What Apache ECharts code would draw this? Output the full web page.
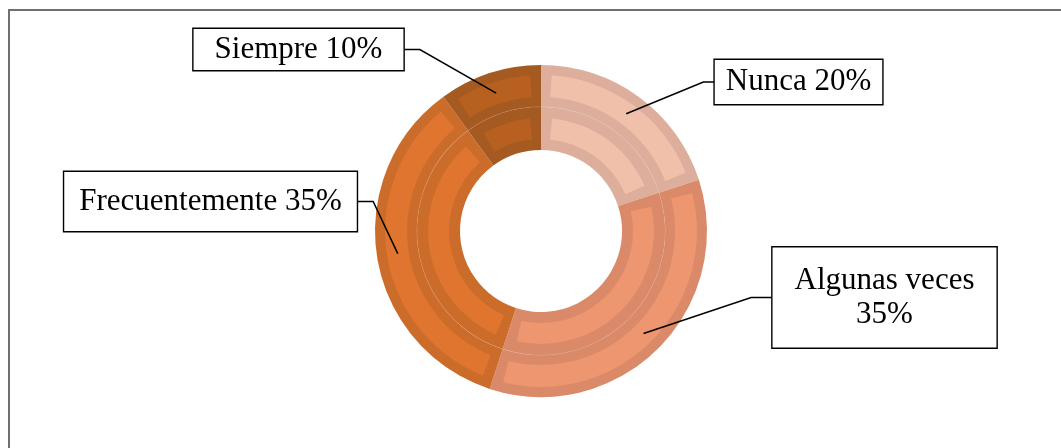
<!DOCTYPE html>
<html>
<head>
<meta charset="utf-8">
<script src="https://cdn.jsdelivr.net/npm/echarts@6/dist/echarts.min.js"></script>
<style>
  html, body { margin: 0; padding: 0; background: #fff; }
  #chart { width: 1061px; height: 448px; }
</style>
</head>
<body>
<div id="chart"></div>
<script>
// Survey answer shares (percent)
const categories = ['Nunca', 'Algunas veces', 'Frecuentemente', 'Siempre'];
const values = [20, 35, 35, 10];

// Slice face colours and their darker bevel edges
const faceColors = ['#F0C0AA', '#EE9670', '#DF752F', '#B8601F'];
const edgeColors = ['#DCAE9B', '#DA8A69', '#CB6C2B', '#A55A22'];
const seamColors = categories.map(() => 'rgba(255,255,255,0.3)');

// Callout boxes: centre, padding [top, right, bottom, left], leader side, elbow length
const callouts = [
  { cx: 798.5, cy: 82,    pad: [6.5, 11, 3.5, 11], side: 'left',  elbow: 10, wrap: false },
  { cx: 884.5, cy: 297.5, pad: [20, 22, 12, 22],   side: 'left',  elbow: 20, wrap: true  },
  { cx: 210.5, cy: 201.5, pad: [14, 15, 11, 15],   side: 'right', elbow: 15, wrap: false },
  { cx: 298.5, cy: 49.5,  pad: [5, 21, 2, 21],     side: 'right', elbow: 15, wrap: false }
];

const CENTER = [541, 231];

function ringData(colors) {
  return categories.map((name, i) => ({
    name: name,
    value: values[i],
    itemStyle: { color: colors[i] }
  }));
}

function ring(radius, colors, padAngle, z) {
  return {
    type: 'pie',
    silent: true,
    z: z,
    center: CENTER,
    radius: radius,
    startAngle: 90,
    clockwise: true,
    padAngle: padAngle,
    avoidLabelOverlap: false,
    label: { show: false },
    labelLine: { show: false },
    emphasis: { disabled: true },
    itemStyle: { borderWidth: 0 },
    data: ringData(colors)
  };
}

const chart = echarts.init(document.getElementById('chart'), null, { renderer: 'canvas' });

const labelData = categories.map((name, i) => ({
  name: name,
  value: values[i],
  itemStyle: { color: 'rgba(0,0,0,0)' },
  label: { padding: callouts[i].pad }
}));

chart.setOption({
  animation: false,
  backgroundColor: '#ffffff',
  graphic: [{
    type: 'rect',
    silent: true,
    z: 100,
    shape: { x: 9, y: 10, width: 1100, height: 500 },
    style: { fill: null, stroke: '#707070', lineWidth: 2 }
  }],
  series: [
    // ring bases
    ring([124, 166], edgeColors, 0, 1),
    ring([81, 124.3], edgeColors, 0, 1),
    // faint seam between the two rings
    ring([123.9, 124.4], seamColors, 0, 2),
    // ring faces
    ring([134, 156], faceColors, 7.9, 3),
    ring([92, 113], faceColors, 11.2, 3),
    // callouts
    {
      type: 'pie',
      silent: true,
      z: 5,
      center: CENTER,
      radius: [0, 145],
      startAngle: 90,
      clockwise: true,
      avoidLabelOverlap: false,
      emphasis: { disabled: true },
      itemStyle: { borderWidth: 0 },
      label: {
        show: true,
        position: 'outside',
        fontFamily: 'Liberation Serif',
        fontSize: 31,
        lineHeight: 34,
        color: '#000',
        backgroundColor: '#fff',
        borderColor: '#000',
        borderWidth: 1.4,
        align: 'center',
        formatter: (p) => {
          const c = callouts[p.dataIndex];
          return p.name + (c.wrap ? '\n' : ' ') + p.value + '%';
        }
      },
      labelLine: {
        show: true,
        length: 10,
        length2: 10,
        lineStyle: { color: '#000', width: 1.5 }
      },
      labelLayout: (params) => {
        const c = callouts[params.dataIndex];
        const halfW = params.labelRect.width / 2;
        const start = params.labelLinePoints ? params.labelLinePoints[0] : [c.cx, c.cy];
        const edgeX = c.side === 'left' ? c.cx - halfW : c.cx + halfW;
        const elbowX = c.side === 'left' ? edgeX - c.elbow : edgeX + c.elbow;
        return {
          x: c.cx,
          y: c.cy,
          align: 'center',
          verticalAlign: 'middle',
          labelLinePoints: [start, [elbowX, c.cy], [c.cx, c.cy]]
        };
      },
      data: labelData
    }
  ]
});
</script>
</body>
</html>
